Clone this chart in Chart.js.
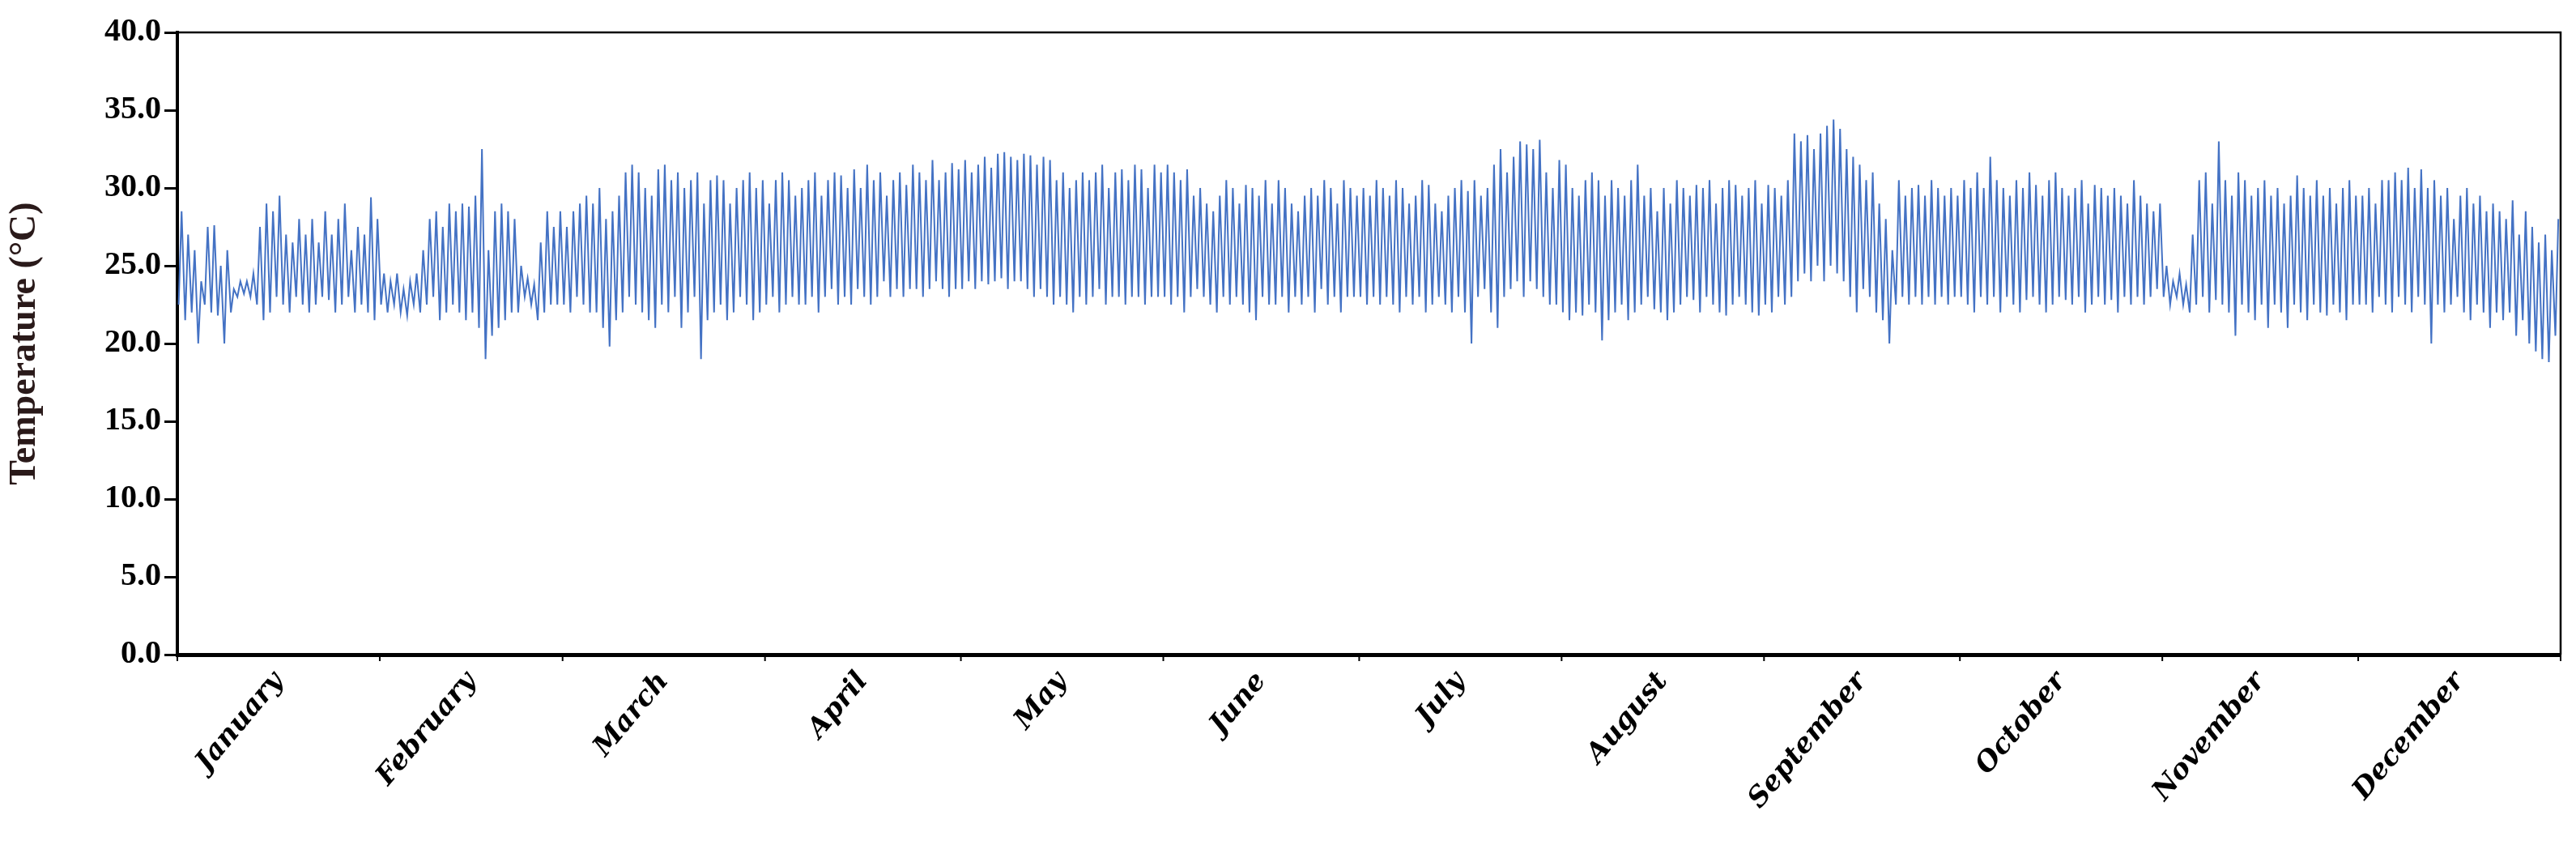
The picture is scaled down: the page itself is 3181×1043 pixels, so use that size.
<!DOCTYPE html>
<html><head><meta charset="utf-8">
<script src="https://cdn.jsdelivr.net/npm/chart.js@4/dist/chart.umd.min.js"></script>
<style>html,body{margin:0;padding:0;background:#fff}#w{width:3181px;height:1043px}</style>
</head><body><div id="w"><canvas id="c"></canvas></div>
<script>
const months=["January","February","March","April","May","June","July","August","September","October","November","December"];
const yTicks=[0,5,10,15,20,25,30,35,40];
const janMax=[28.5,27,26,24,27.5,27.6,25,26,23.5,24,24,24.5,27.5,29,28.5,29.5,27,26.5,28,27,28,26.5,28.5,27,28,29,26,27.5,27,29.4,28];
const janMin=[22.5,21.5,22,20,22.5,22,21.8,20,22,23,23.2,23,22.5,21.5,22,23,22.5,22,23,22.5,22,22.5,23,22.8,22,22.5,23,22,22.5,22,21.5];
const febMax=[24.5,24,24.5,23.5,24,24.5,26,28,28.5,27.5,29,28.5,29,28.8,29.5,32.5,26,28.5,29,28.5,28,25,24.2,23.8,26.5,28.5,27.5,28.5];
const febMin=[22.5,22,22.5,22,21.8,22.5,22,22.5,23,21.5,22,22.5,22,21.5,22,21,19,20.5,21,21.5,22,22,23,22.5,21.5,22,22.5,22.5];
const marMax=[27.5,28.5,29,29.5,29,30,28,28.5,29.5,31,31.5,31,30,29.5,31.2,31.5,30.5,31,30,30.5,31,29,30.5,30.8,30.5,29,30,30.5,31,30,30.5];
const marMin=[22.5,22,23,22.5,22,22,21,19.8,21.5,22,23,22.5,22,21.5,21,22.5,22,23,21,22,23,19,21.5,22,22.5,21.5,22,23,22.5,21.5,22];
const aprMax=[29,30.5,31,30.5,29.5,30,30.5,31,29.5,30.5,31,30.8,30,31.2,30,31.5,30.5,31,29.5,30.5,31,30.2,31.5,31,30.5,31.8,30.5,31,31.6,31.2];
const aprMin=[22.5,23,22,22.5,23,22.5,22.5,23,22,23,23.5,22.5,23,22.5,23.5,23,22.5,23,24,23,23.5,23,23.5,23.5,23,23.5,24,23.5,23,23.5];
const mayMax=[31.8,31,31.5,32,31.3,32.2,32.3,32,31.8,32.2,32.1,31.5,32,31.8,30.5,31,30,30.5,31,30.5,31,31.5,30,31,31.2,30.5,31.5,31.2,30,31.5,31];
const mayMin=[23.5,24,23.5,24,23.8,24,24.2,23.5,24,24,23.5,23,23.5,23,22.5,23,22.5,22,23,22.5,23,23.5,22.5,23,23,22.5,23,23,22.5,23,23];
const junMax=[31.5,31,30.5,31.2,29.5,30,29,28.5,29.5,30.5,30,29,30.2,30,29.5,30.5,29,30.5,30,29,28.5,29.5,30,29.5,30.5,30,29,30.5,30,29.5];
const junMin=[23,22.5,23,22,23,23.5,23,22.5,22,23,22.5,23,22.5,22,21.5,23,22.5,22.5,23,22,23,22.5,23,22,23.5,22.5,23,22,23,23];
const julMax=[30,29.5,30.5,30,29.5,30.5,30,29,29.5,30.5,30.2,29,28.5,29.5,30,30.5,29.8,30.5,29.5,30,31.5,32.5,31,32,33,32.8,32.5,33.1,31,30,31.8];
const julMin=[23,22.5,23,22.5,23,22.5,22,23,22.5,23,22,22.5,23,22.5,22,23,22,20,23,23.5,22,21,23,23.5,24,23,24,23.5,23,22.5,22.5];
const augMax=[31.5,30,29.5,30.5,31,30.5,29.5,30.5,30,29.5,30.5,31.5,29.5,30,28.5,30,29,30.5,30,29.5,30.2,30,30.5,29,30,30.5,30.2,29.5,30,30.5,29];
const augMin=[22,21.5,22,21.8,22.5,22,20.2,21.5,22,22.5,21.5,22,22.5,23,22.2,22,21.5,22,22.5,23,22.8,22,23,22.5,22,21.8,22.5,23,22.5,22,21.8];
const sepMax=[30.2,30,29.5,30.5,33.5,33,33.4,32.5,33.5,34,34.4,33.8,32.5,32,31.5,30.5,31,29,28,26,30.5,29.5,30,30.2,29.5,30.5,30,29.5,30,29.5];
const sepMin=[22.5,22,23,22.5,23,24,24.5,24,25,24,25,24.5,24,23,22,23.5,23,22,21.5,20,22.5,23,22.5,23,22.5,23,22.5,23,22.5,23];
const octMax=[30.5,30,31,30,32,30.5,30,29.5,30.5,30,31,30.2,29.5,30.5,31,30,29.5,30,30.5,29,30.2,30,29.5,30,29.5,29,30.5,29.5,29,28.5,29];
const octMin=[23,22.5,22,23,22.5,23,22,23,22.5,22,22.8,23,22.5,22,22.5,23,22.8,22.5,23,22,22.5,23,22.5,22.8,22,23,22.5,23,22.5,23,23.5];
const novMax=[25,24,24.5,23.8,27,30.5,31,29,33,30.5,29.5,31,30.5,29.5,30,30.5,29.5,30,29,29.5,30.8,30,29.5,30.5,29.5,30,29,30,30.5,29.5];
const novMin=[23,22.5,23,22.5,22,22.5,23,22,22.8,22.5,22,20.5,22.5,22,21.5,22.5,21,22.5,22,21,22.5,22,21.5,22.5,22,21.8,22.5,22,21.5,22.5];
const decMax=[29.5,30,29,30.5,30.5,31,30.5,31.3,30,31.2,30,30.5,29.5,30,28,29.5,30,29,29.5,28.5,29,28.5,28,29.2,27,28.5,27.5,26.5,27,26,28];
const decMin=[22.5,22.5,22,23,22.5,22,23,22.5,22,23,22.5,20,22.5,22,22.5,23,22,21.5,22.5,22,21,22,21.5,22,20.5,21.5,20,19.5,19,18.8,20.5];

const maxAll=[janMax,febMax,marMax,aprMax,mayMax,junMax,julMax,augMax,sepMax,octMax,novMax,decMax].flat();
const minAll=[janMin,febMin,marMin,aprMin,mayMin,junMin,julMin,augMin,sepMin,octMin,novMin,decMin].flat();
const monthLen=[31,28,31,30,31,30,31,31,30,31,30,31];
const pts=[];
for(let d=0;d<maxAll.length;d++){pts.push({x:d+0.2,y:minAll[d]});pts.push({x:d+0.65,y:maxAll[d]});}
const mids=[];let acc=0;const bounds=[0];
monthLen.forEach(l=>{mids.push(acc+l/2);acc+=l;bounds.push(acc);});

const frame={id:'frame',afterDraw(ch){const a=ch.chartArea,c=ch.ctx;c.save();c.strokeStyle='#000';
 c.lineWidth=2.5;c.beginPath();c.moveTo(a.left,a.top);c.lineTo(a.right,a.top);c.lineTo(a.right,a.bottom);c.stroke();
 const xs=ch.scales.x;c.lineWidth=2;bounds.forEach(b=>{const px=xs.getPixelForValue(b);c.beginPath();c.moveTo(px,a.bottom);c.lineTo(px,a.bottom+8);c.stroke();});
 c.restore();}};

new Chart(document.getElementById('c'),{type:'line',
 data:{datasets:[{data:pts,borderColor:'#4472C4',borderWidth:2,pointRadius:0,tension:0,fill:false}]},
 options:{responsive:true,maintainAspectRatio:false,animation:false,
  layout:{padding:{top:40,right:19,left:0,bottom:0}},
  plugins:{legend:{display:false},tooltip:{enabled:false}},
  scales:{
   x:{type:'linear',min:0,max:365,
    afterBuildTicks:s=>{s.ticks=mids.map(v=>({value:v}));},
    afterFit:s=>{s.height=235;},
    grid:{display:false},border:{display:true,color:'#000',width:5},
    ticks:{autoSkip:false,minRotation:50,maxRotation:50,padding:6,color:'#000',
     font:{family:'DejaVu Serif',size:34,weight:'bold',style:'italic'},
     callback:(v,i)=>months[i]}},
   y:{min:0,max:40,
    afterBuildTicks:s=>{s.ticks=yTicks.map(v=>({value:v}));},
    afterFit:s=>{s.width=219;},
    grid:{drawOnChartArea:false,color:'#000',lineWidth:3,tickLength:16},
    border:{display:true,color:'#000',width:4},
    ticks:{color:'#000',padding:4,font:{family:'Liberation Serif',size:40,weight:'bold'},callback:v=>v.toFixed(1)},
    title:{display:true,text:'Temperature (°C)',color:'#2a1a1a',padding:{bottom:4},font:{family:'Liberation Serif',size:46,weight:'bold'}}}
  }},plugins:[frame]});
</script></body></html>
